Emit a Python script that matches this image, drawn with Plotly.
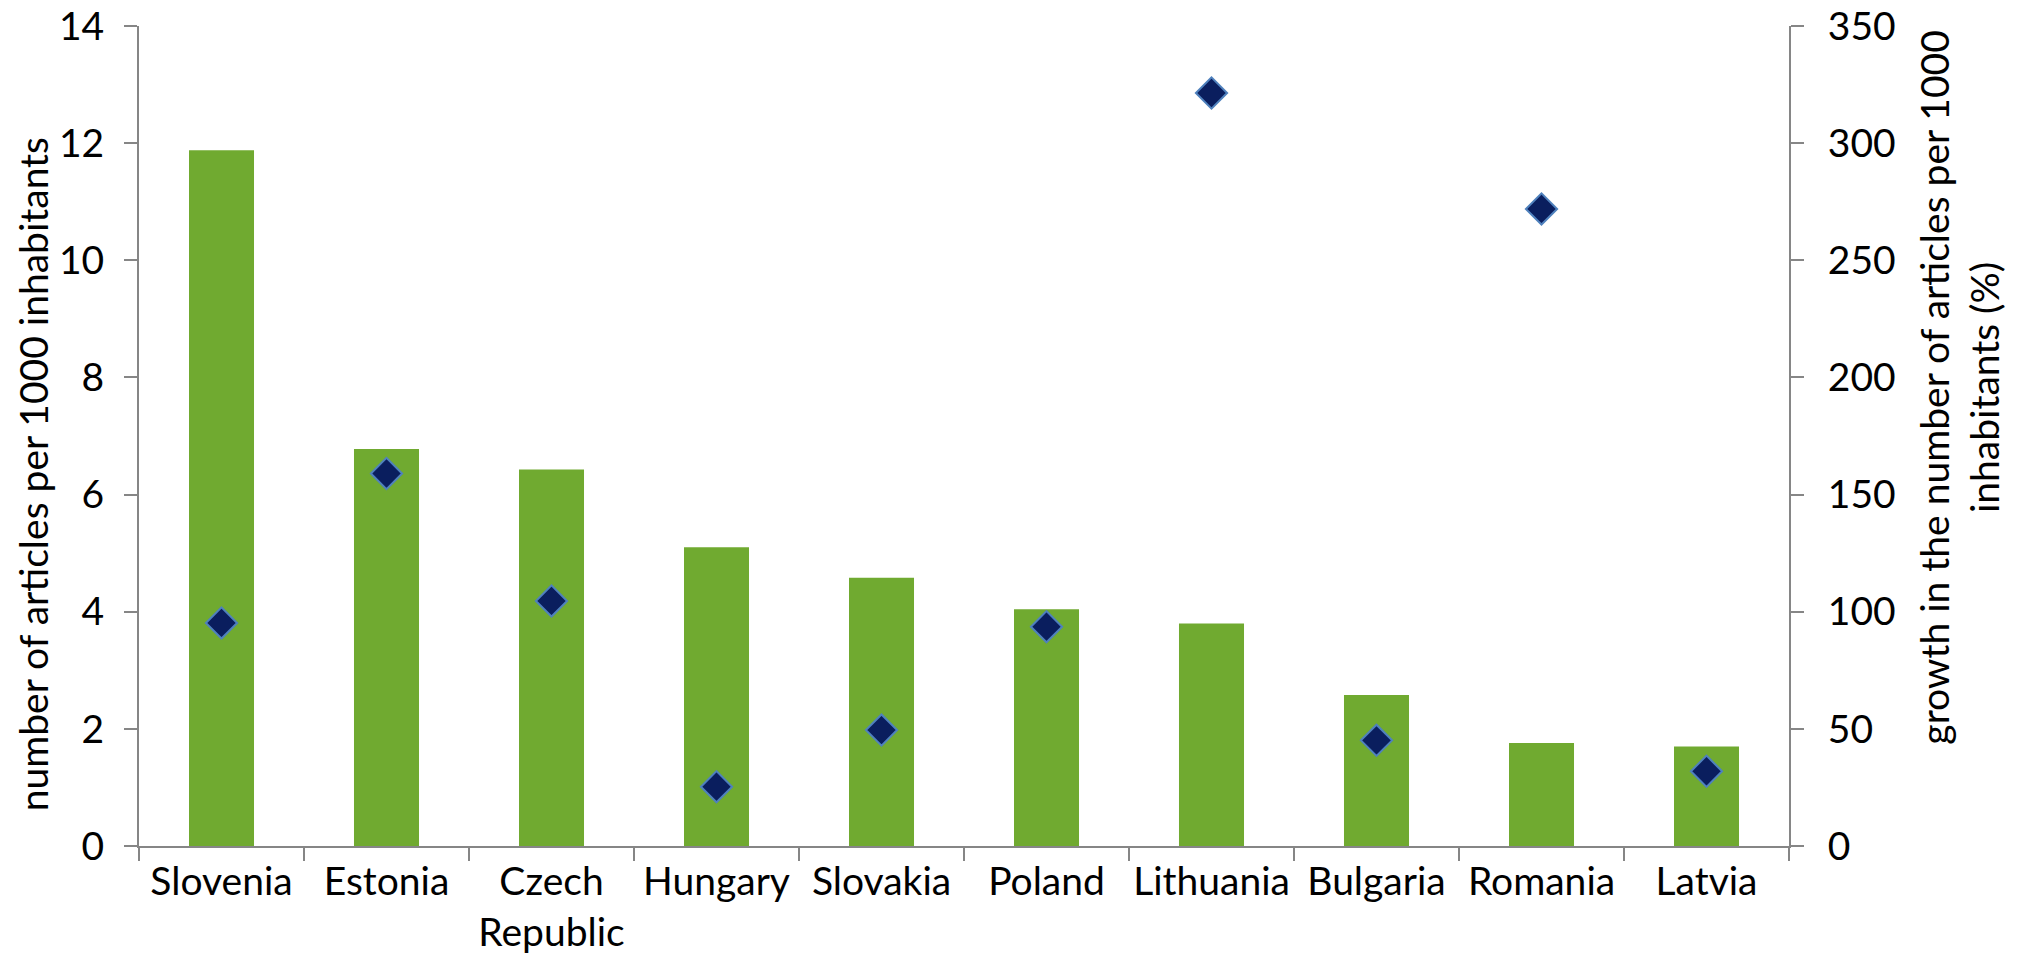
import plotly.graph_objects as go

countries = ["Slovenia", "Estonia", "Czech<br>Republic", "Hungary", "Slovakia",
             "Poland", "Lithuania", "Bulgaria", "Romania", "Latvia"]
articles_per_1000 = [11.88, 6.78, 6.43, 5.10, 4.58, 4.04, 3.80, 2.58, 1.76, 1.70]
growth_pct = [95.2, 159.0, 104.6, 25.3, 49.5, 93.6, 321.4, 45.1, 271.9, 31.9]

left_ticks = [0, 2, 4, 6, 8, 10, 12, 14]
right_ticks = [0, 50, 100, 150, 200, 250, 300, 350]

FONT = "Lato, 'Open Sans', sans-serif"
AXIS_COL = "#868686"
n = len(countries)
boundaries = [i - 0.5 for i in range(n + 1)]

fig = go.Figure()
fig.add_trace(go.Bar(x=countries, y=articles_per_1000, marker_color="#70AA30",
                     marker_line_width=0, name="articles per 1000 inhabitants"))
fig.add_trace(go.Scatter(x=countries, y=growth_pct, yaxis="y2", mode="markers",
                         marker=dict(symbol="diamond", size=24, color="#0A1E5E",
                                     line=dict(color="#4F81BD", width=2)),
                         name="growth (%)"))

fig.update_layout(
    width=2022, height=969,
    margin=dict(l=139, r=233, t=26, b=123),
    paper_bgcolor="white", plot_bgcolor="white",
    showlegend=False, bargap=0.606,
    font=dict(family=FONT, size=39, color="black"),
    xaxis=dict(type="category", tickson="boundaries", ticks="outside", ticklen=13,
               tickcolor=AXIS_COL, tickwidth=2, showline=True, linecolor=AXIS_COL,
               linewidth=2, showgrid=False, zeroline=False, automargin=False,
               tickangle=0, tickfont=dict(size=39), range=[-0.5, n - 0.5]),
    xaxis2=dict(overlaying="x", anchor="y", range=[-0.5, n - 0.5], tickmode="array",
                tickvals=boundaries, ticks="inside", ticklen=13, tickcolor=AXIS_COL,
                tickwidth=2, showticklabels=False, showline=False, showgrid=False,
                zeroline=False, automargin=False),
    yaxis=dict(range=[0, 14], tickmode="array", tickvals=left_ticks, ticks="outside",
               ticklen=13, tickcolor=AXIS_COL, tickwidth=2, showline=True,
               linecolor=AXIS_COL, linewidth=2, showgrid=False, zeroline=False,
               automargin=False, tickfont=dict(size=39), ticklabelstandoff=12),
    yaxis2=dict(range=[0, 350], tickmode="array", tickvals=right_ticks, overlaying="y",
                side="right", ticks="outside", ticklen=13, tickcolor=AXIS_COL,
                tickwidth=2, showline=True, linecolor=AXIS_COL, linewidth=2,
                showgrid=False, zeroline=False, automargin=False,
                tickfont=dict(size=39), ticklabelstandoff=16),
    yaxis3=dict(range=[0, 14], overlaying="y", anchor="x", side="left", tickmode="array",
                tickvals=left_ticks, ticks="inside", ticklen=13, tickcolor=AXIS_COL,
                tickwidth=2, showticklabels=False, showline=False, showgrid=False,
                zeroline=False, automargin=False),
    yaxis4=dict(range=[0, 350], overlaying="y", anchor="x", side="right", tickmode="array",
                tickvals=right_ticks, ticks="inside", ticklen=13, tickcolor=AXIS_COL,
                tickwidth=2, showticklabels=False, showline=False, showgrid=False,
                zeroline=False, automargin=False),
)

fig.add_annotation(text="number of articles per 1000 inhabitants", xref="paper",
                   yref="paper", x=-0.064, y=0.4537, textangle=-90, showarrow=False,
                   font=dict(size=39), xanchor="center", yanchor="middle")
fig.add_annotation(text="growth in the number of articles per 1000<br>inhabitants (%)",
                   xref="paper", yref="paper", x=1.1028, y=0.5585, textangle=-90,
                   showarrow=False, font=dict(size=39), xanchor="center",
                   yanchor="middle")

fig.write_html("out.html", config={"displayModeBar": False},
               post_script="document.body.style.margin='0px';document.body.style.overflow='hidden';")
